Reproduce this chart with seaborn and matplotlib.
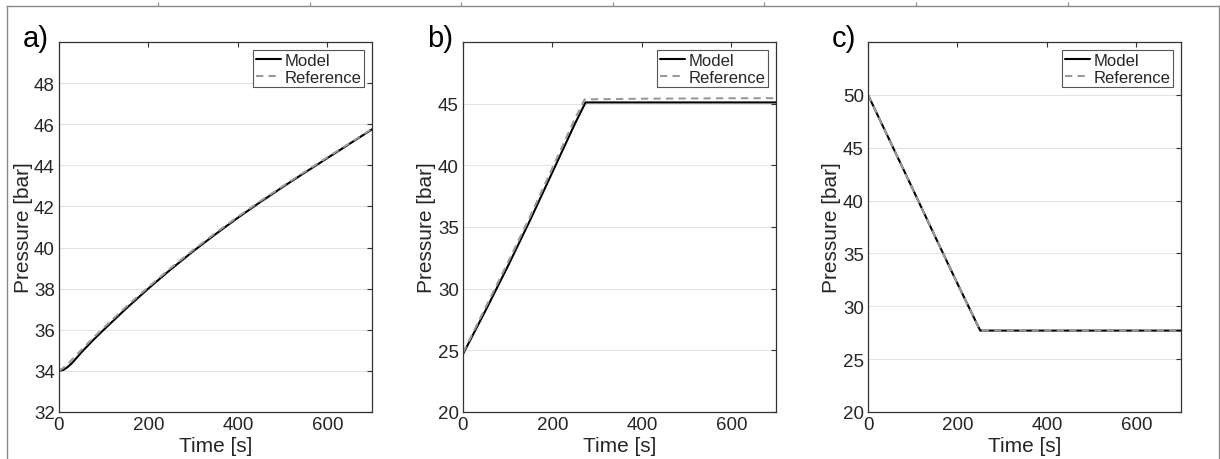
import numpy as np
import pandas as pd
import matplotlib
matplotlib.use("Agg")
import matplotlib.pyplot as plt
import seaborn as sns

# ---------------- data ----------------
# panel a
a_model_t = [0, 10, 20, 30, 50, 75, 100, 150, 200, 250, 300, 350, 400, 450, 500, 550, 600, 650, 700]
a_model_p = [34.0, 34.05, 34.2, 34.4, 34.9, 35.47, 36.0, 37.03, 38.01, 38.94, 39.82, 40.65, 41.45,
             42.21, 42.94, 43.65, 44.35, 45.05, 45.75]
a_ref_t = [0, 10, 20, 30, 50, 75, 100, 150, 200, 250, 300, 350, 400, 450, 500, 550, 600, 650, 700]
a_ref_p = [34.0, 34.15, 34.35, 34.57, 35.02, 35.58, 36.1, 37.12, 38.08, 39.01, 39.88, 40.71, 41.5,
           42.26, 42.98, 43.69, 44.39, 45.08, 45.78]

# panel b
b_model_t = [0, 50, 100, 150, 200, 250, 274, 300, 400, 500, 600, 700]
b_model_p = [24.7, 28.2, 31.8, 35.55, 39.45, 43.35, 45.1, 45.1, 45.1, 45.1, 45.1, 45.1]
b_ref_t = [0, 50, 100, 150, 200, 250, 272, 300, 400, 500, 600, 700]
b_ref_p = [24.8, 28.45, 32.1, 35.85, 39.8, 43.75, 45.35, 45.36, 45.4, 45.42, 45.44, 45.45]

# panel c
c_model_t = [0, 50, 100, 150, 200, 251, 300, 400, 500, 600, 700]
c_model_p = [50.0, 45.55, 41.1, 36.6, 32.15, 27.7, 27.7, 27.7, 27.7, 27.7, 27.7]
c_ref_t = [0, 50, 100, 150, 200, 251, 300, 400, 500, 600, 700]
c_ref_p = [50.0, 45.55, 41.1, 36.6, 32.15, 27.7, 27.7, 27.7, 27.7, 27.7, 27.7]

series_names = ["Model", "Reference"]
panel_letters = ["a)", "b)", "c)"]
y_limits = [(32, 50), (20, 50), (20, 55)]
y_ticks = [[32, 34, 36, 38, 40, 42, 44, 46, 48], [20, 25, 30, 35, 40, 45], [20, 25, 30, 35, 40, 45, 50]]
x_ticks = [0, 200, 400, 600]
x_label = "Time [s]"
y_label = "Pressure [bar]"

# ---------------- style ----------------
sns.set_theme(style="white")
plt.rcParams["font.family"] = ["Liberation Sans", "DejaVu Sans"]
plt.rcParams.update({
    "axes.edgecolor": "#333333",
    "axes.linewidth": 0.9,
    "xtick.color": "#333333",
    "ytick.color": "#333333",
    "xtick.labelcolor": "#262626",
    "ytick.labelcolor": "#262626",
    "axes.labelcolor": "#262626",
})

fig = plt.figure(figsize=(12.2, 4.6), dpi=100)

# outer frame (cropped enclosing figure border)
outer = fig.add_axes([7 / 1220, -138 / 460, 1212 / 1220, 591 / 460])
outer.set_zorder(-5)
outer.patch.set_alpha(0)
outer.set_xlim(0, 1212)
outer.set_ylim(598, 7)
for s in ["top", "left", "right"]:
    outer.spines[s].set_color("#8a8a8a")
    outer.spines[s].set_linewidth(1.0)
outer.spines["bottom"].set_visible(False)
outer.xaxis.tick_top()
outer.set_xticks([151 + 151.6 * k for k in range(7)])
outer.set_xticklabels([])
outer.set_yticks([85, 230, 265, 315])
outer.set_yticklabels([])
outer.tick_params(axis="both", direction="out", length=3, color="#8a8a8a", width=0.8)
outer.tick_params(axis="y", right=False)

panels = [
    (a_model_t, a_model_p, a_ref_t, a_ref_p),
    (b_model_t, b_model_p, b_ref_t, b_ref_p),
    (c_model_t, c_model_p, c_ref_t, c_ref_p),
]
lefts = [59, 463, 868]

for i, (mt, mp, rt, rp) in enumerate(panels):
    ax = fig.add_axes([lefts[i] / 1220, 47 / 460, 313 / 1220, 370 / 460])
    df = pd.concat([
        pd.DataFrame({"Time": mt, "Pressure": mp, "Series": series_names[0]}),
        pd.DataFrame({"Time": rt, "Pressure": rp, "Series": series_names[1]}),
    ], ignore_index=True)
    sns.lineplot(data=df, x="Time", y="Pressure", hue="Series", style="Series",
                 hue_order=series_names, style_order=series_names,
                 palette={"Model": "black", "Reference": "#9a9a9a"},
                 dashes={"Model": "", "Reference": (3.5, 2.5)},
                 linewidth=1.5, ax=ax, estimator=None, sort=False)
    ax.set_xlim(0, 700)
    ax.set_ylim(*y_limits[i])
    ax.set_xticks(x_ticks)
    ax.set_yticks(y_ticks[i])
    ax.yaxis.grid(True, color="#e3e3e3", linewidth=0.8)
    ax.xaxis.grid(False)
    ax.set_axisbelow(True)
    ax.tick_params(axis="both", which="both", direction="in", length=3.5, width=0.8,
                   top=True, right=True, labelsize=13.5, pad=3)
    ax.set_xlabel(x_label, fontsize=15, labelpad=2)
    ax.set_ylabel(y_label, fontsize=15, labelpad=1)
    for s in ax.spines.values():
        s.set_visible(True)
    sns.move_legend(ax, "upper right", title=None, frameon=True, fancybox=False,
                    fontsize=12, edgecolor="#555555", framealpha=1,
                    borderaxespad=0.5, borderpad=0.15, handlelength=1.5,
                    handletextpad=0.2, labelspacing=0.12)
    ax.get_legend().get_frame().set_linewidth(0.8)
    ax.text(-0.116, 0.99, panel_letters[i], transform=ax.transAxes, fontsize=21,
            va="baseline", ha="left", color="black")

fig.savefig("out.png", dpi=100)
